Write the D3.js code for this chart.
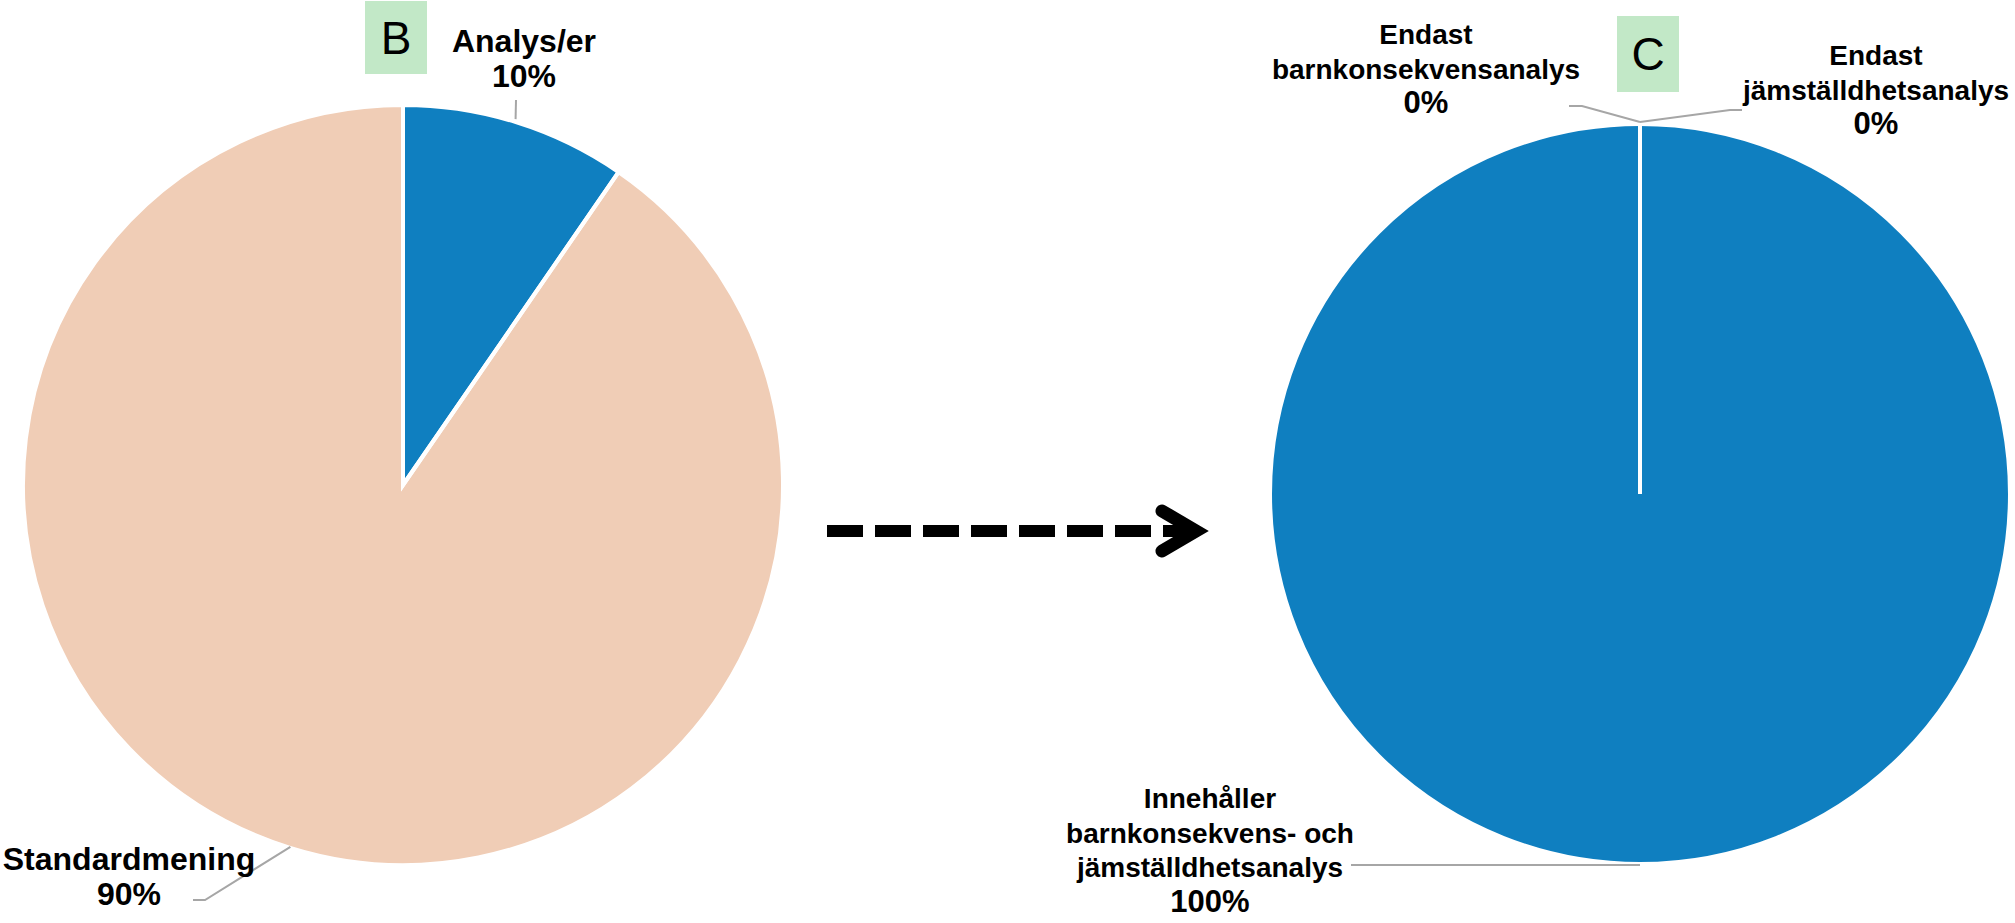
<!DOCTYPE html>
<html>
<head>
<meta charset="utf-8">
<script src="https://cdn.jsdelivr.net/npm/d3@7"></script>
<style>
  body { margin: 0; background: #fff; }
  text { font-family: "Liberation Sans", Arial, sans-serif; }
</style>
</head>
<body>
<div id="chart"></div>
<script>
// Pie B: before
const leftCategories = ["Analys/er", "Standardmening"];
const leftValues = [9.6, 90.4];
const leftLabelLines = [["Analys/er"], ["Standardmening"]];

// Pie C: after
const rightCategories = ["Endast barnkonsekvensanalys", "Endast jämställdhetsanalys", "Innehåller barnkonsekvens- och jämställdhetsanalys"];
const rightValues = [0, 0, 100];
const rightLabelLines = [["Endast", "barnkonsekvensanalys"], ["Endast", "jämställdhetsanalys"], ["Innehåller", "barnkonsekvens- och", "jämställdhetsanalys"]];

const width = 2015;
const height = 923;

const blue = "#0f7fc0";
const peach = "#f0cdb6";
const boxGreen = "#c2e8c7";
const leaderGrey = "#a6a6a6";

const svg = d3.select("#chart")
  .append("svg")
  .attr("width", width)
  .attr("height", height);

const pct = d3.format(".0%");

const drawPie = (opts) => {
  const { cx, cy, r, values, colours, labels, lineSpacing, nameSize, pctSize } = opts;
  const total = d3.sum(values);

  const pie = d3.pie().value(d => d).sort(null);
  const arcs = pie(values);
  const arc = d3.arc().innerRadius(0).outerRadius(r);

  const g = svg.append("g").attr("transform", `translate(${cx},${cy})`);

  // fills first, then the white borders on top so zero slices still show
  g.selectAll("path.fill")
    .data(arcs)
    .join("path")
      .attr("class", "fill")
      .attr("d", arc)
      .attr("fill", (d, i) => colours[i]);

  g.selectAll("path.edge")
    .data(arcs)
    .join("path")
      .attr("class", "edge")
      .attr("d", arc)
      .attr("fill", "none")
      .attr("stroke", "white")
      .attr("stroke-width", 4);

  // leader lines from the slice's outer edge at mid-angle
  arcs.forEach((d, i) => {
    const lab = labels[i];
    const a = (d.startAngle + d.endAngle) / 2;
    const sx = Math.sin(a) * (r - 1);
    const sy = -Math.cos(a) * (r - 1);
    const pts = [[sx, sy + (lab.startDy || 0)]].concat(lab.leader.map(p => [p[0] - cx, p[1] - cy]));
    g.append("path")
      .attr("d", d3.line()(pts))
      .attr("fill", "none")
      .attr("stroke", leaderGrey)
      .attr("stroke-width", 2);

    const lines = lab.lines;
    const t = svg.append("text")
      .attr("text-anchor", "middle")
      .attr("font-weight", "bold")
      .attr("fill", "#000");
    lines.forEach((ln, k) => {
      t.append("tspan")
        .attr("x", lab.x)
        .attr("y", lab.y + k * lineSpacing)
        .attr("font-size", nameSize)
        .text(ln);
    });
    t.append("tspan")
      .attr("x", lab.x)
      .attr("y", lab.y + lines.length * lineSpacing)
      .attr("font-size", pctSize)
      .text(pct(d.data / total));
  });
};

// Left pie (B)
drawPie({
  cx: 403, cy: 485, r: 380,
  values: leftValues,
  colours: [blue, peach],
  nameSize: 32, pctSize: 32, lineSpacing: 35,
  labels: [
    { lines: leftLabelLines[0], x: 524, y: 52, startDy: -4, leader: [[516, 100]] },
    { lines: leftLabelLines[1], x: 129, y: 870, leader: [[205, 900], [193, 900]] }
  ]
});

// Right pie (C)
drawPie({
  cx: 1640, cy: 494, r: 370,
  values: rightValues,
  colours: [blue, blue, blue],
  nameSize: 28, pctSize: 31, lineSpacing: 34.5,
  labels: [
    { lines: rightLabelLines[0], x: 1426, y: 44, startDy: -3, leader: [[1582, 106], [1569, 106]] },
    { lines: rightLabelLines[1], x: 1876, y: 65, startDy: -3, leader: [[1730, 110], [1742, 110]] },
    { lines: rightLabelLines[2], x: 1210, y: 808, startDy: 2, leader: [[1351, 865]] }
  ]
});

// Panel letters
const panels = [
  { letter: "B", x: 365, y: 1, w: 62, h: 73 },
  { letter: "C", x: 1617, y: 16, w: 62, h: 76 }
];
panels.forEach(p => {
  svg.append("rect")
    .attr("x", p.x).attr("y", p.y)
    .attr("width", p.w).attr("height", p.h)
    .attr("fill", boxGreen);
  svg.append("text")
    .attr("x", p.x + p.w / 2)
    .attr("y", p.y + p.h / 2 + 16)
    .attr("text-anchor", "middle")
    .attr("font-size", 46)
    .attr("fill", "#000")
    .text(p.letter);
});

// Dashed arrow between the two pies
svg.append("line")
  .attr("x1", 827).attr("y1", 531)
  .attr("x2", 1190).attr("y2", 531)
  .attr("stroke", "#000")
  .attr("stroke-width", 12)
  .attr("stroke-dasharray", "36 12");

svg.append("path")
  .attr("d", d3.line()([[1162, 511], [1196, 531], [1162, 551]]))
  .attr("fill", "none")
  .attr("stroke", "#000")
  .attr("stroke-width", 13)
  .attr("stroke-linecap", "round")
  .attr("stroke-linejoin", "miter");
</script>
</body>
</html>
